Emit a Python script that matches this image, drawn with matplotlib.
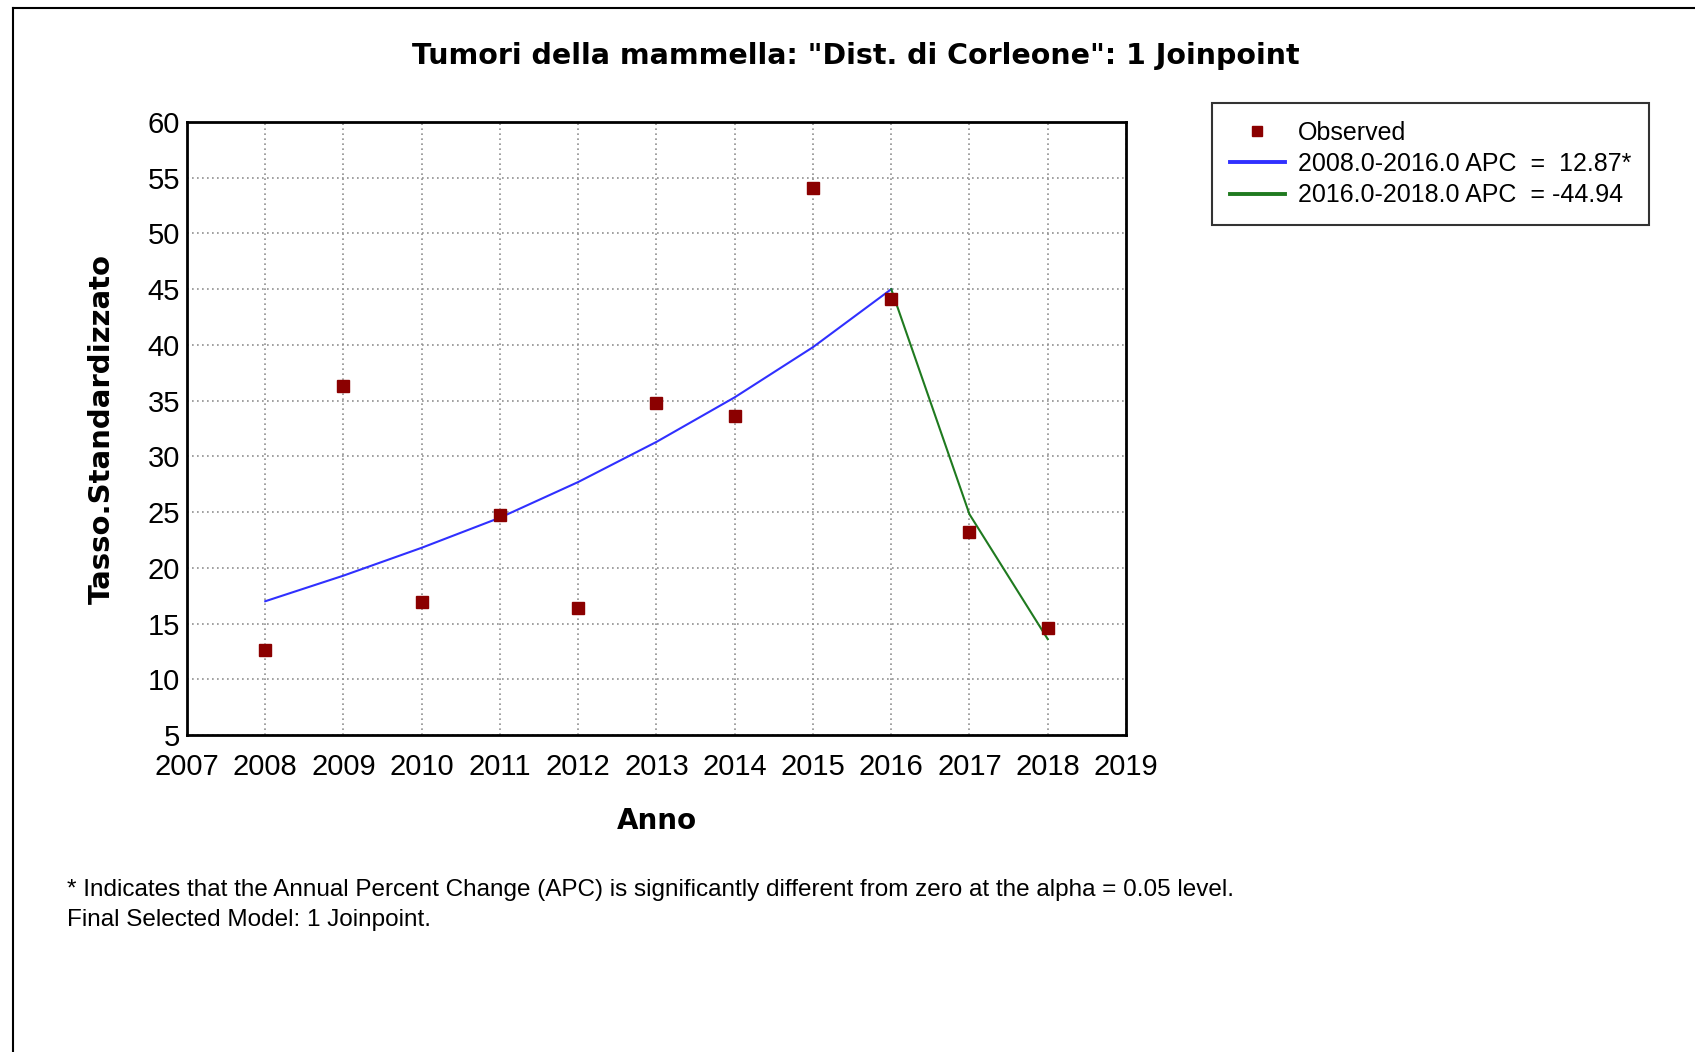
import matplotlib
matplotlib.use('Agg')
import numpy as np
import matplotlib.pyplot as plt
from matplotlib.lines import Line2D

# observed rates
anni = [2008, 2009, 2010, 2011, 2012, 2013, 2014, 2015, 2016, 2017, 2018]
osservati = [12.6, 36.3, 16.9, 24.7, 16.4, 34.8, 33.6, 54.1, 44.1, 23.2, 14.6]

# joinpoint segments
anni_seg1 = [2008, 2009, 2010, 2011, 2012, 2013, 2014, 2015, 2016]
fit_seg1 = [17.0, 19.3, 21.8, 24.5, 27.7, 31.3, 35.3, 39.8, 45.0]
anni_seg2 = [2016, 2017, 2018]
fit_seg2 = [45.0, 24.8, 13.6]

xticks = list(range(2007, 2020))
yticks = list(range(5, 61, 5))

titolo = 'Tumori della mammella: "Dist. di Corleone": 1 Joinpoint'
leg_labels = ['Observed', '2008.0-2016.0 APC  =  12.87*', '2016.0-2018.0 APC  = -44.94']
nota1 = '* Indicates that the Annual Percent Change (APC) is significantly different from zero at the alpha = 0.05 level.'
nota2 = 'Final Selected Model: 1 Joinpoint.'

narrow = ['Liberation Sans Narrow', 'Liberation Sans', 'DejaVu Sans']

fig = plt.figure(figsize=(16.95, 10.52), dpi=100)
ax = fig.add_axes([187/1695, 1-735/1052, (1126-187)/1695, (735-122)/1052])

ax.plot(anni_seg1, fit_seg1, color='#3030ff', lw=1.5, label=leg_labels[1], zorder=3)
ax.plot(anni_seg2, fit_seg2, color='#1f7a1f', lw=1.5, label=leg_labels[2], zorder=3)
ax.plot(anni, osservati, 's', color='#8b0000', ms=9, ls='none', label=leg_labels[0], zorder=4)

ax.set_xlim(2007, 2019)
ax.set_ylim(5, 60)
ax.set_xticks(xticks)
ax.set_yticks(yticks)
ax.grid(True, color='#909090', ls=(0, (1, 2)), lw=1.2)
ax.tick_params(length=0)
ax.tick_params(axis='x', pad=13)
ax.tick_params(axis='y', pad=5)
for lab in ax.get_xticklabels() + ax.get_yticklabels():
    lab.set_family(narrow)
    lab.set_fontsize(21)
for s in ax.spines.values():
    s.set_linewidth(2)
    s.set_color('black')

ax.set_xlabel('Anno', fontsize=20, fontweight='bold', labelpad=19)
ax.set_ylabel('Tasso.Standardizzato', fontsize=21, fontweight='bold', labelpad=23)

fig.text(0.505, 1-56/1052, titolo, ha='center', va='center', fontsize=20.5, fontweight='bold')

h, l = ax.get_legend_handles_labels()
order = [2, 0, 1]
leg = fig.legend([h[i] for i in order], [l[i] for i in order],
                 loc='upper left', bbox_to_anchor=(1212/1695, 1-103/1052), borderaxespad=0,
                 prop={'family': narrow, 'size': 18}, frameon=True, fancybox=False,
                 edgecolor='black', borderpad=0.7, labelspacing=0.3, handlelength=2.2,
                 handletextpad=0.55, markerscale=0.75)
leg.get_frame().set_linewidth(1.5)
for ln in leg.get_lines()[1:]:
    ln.set_linewidth(2.8)

fig.text(67/1695, 1-890/1052, nota1, ha='left', va='center', fontsize=17.5, family=narrow)
fig.text(67/1695, 1-920/1052, nota2, ha='left', va='center', fontsize=17.5, family=narrow)

# window frame lines
fig.add_artist(Line2D([13/1695, 1], [1-8/1052, 1-8/1052], color='black', lw=1.5, transform=fig.transFigure))
fig.add_artist(Line2D([13/1695, 13/1695], [0, 1-8/1052], color='black', lw=1.5, transform=fig.transFigure))

fig.savefig('out.png', dpi=100)
